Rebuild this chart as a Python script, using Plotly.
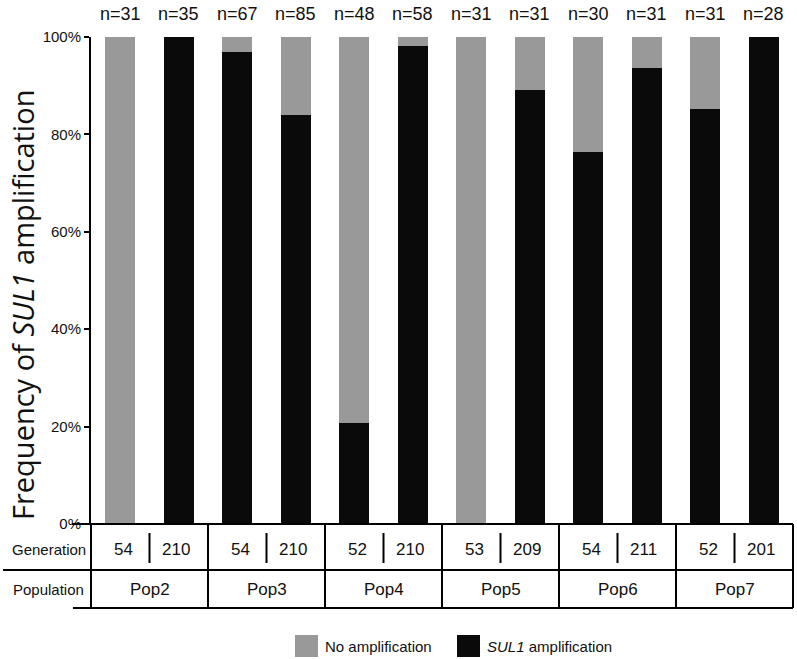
import plotly.graph_objects as go

populations = ["Pop2", "Pop3", "Pop4", "Pop5", "Pop6", "Pop7"]
generations = [54, 210, 54, 210, 52, 210, 53, 209, 54, 211, 52, 201]
sample_sizes = [31, 35, 67, 85, 48, 58, 31, 31, 30, 31, 31, 28]
amplified = [0.0, 1.0, 0.969, 0.840, 0.207, 0.982, 0.0, 0.891, 0.764, 0.936, 0.852, 1.0]
not_amplified = [round(1 - a, 3) for a in amplified]
y_ticks = [0, 0.2, 0.4, 0.6, 0.8, 1.0]
y_ticklabels = ["0%", "20%", "40%", "60%", "80%", "100%"]

# one category per sample (population + generation)
cats = [f"{populations[i // 2]}-{g}" for i, g in enumerate(generations)]

FONT = "Liberation Sans, Arial, sans-serif"
GRAY = "#999999"
BLACK = "#0a0a0a"
TXT = "#111111"

fig = go.Figure()
fig.add_trace(go.Bar(x=cats, y=amplified, name="SUL1 amplification",
                     marker=dict(color=BLACK, line=dict(width=0)), showlegend=False))
fig.add_trace(go.Bar(x=cats, y=not_amplified, name="No amplification",
                     marker=dict(color=GRAY, line=dict(width=0)), showlegend=False))

n = len(cats)
# paper helpers: plot area is 702 x 487 px
def py(pix):
    return (524 - pix) / 487

def px(pix):
    return (pix - 91) / 702

line = dict(color="black", width=2)
shapes = [
    # table horizontal lines
    dict(type="line", xref="paper", yref="paper", x0=px(72), x1=1, y0=0, y1=0, line=line),
    dict(type="line", xref="paper", yref="paper", x0=px(3), x1=1, y0=py(570), y1=py(570), line=line),
    dict(type="line", xref="paper", yref="paper", x0=px(73), x1=1, y0=py(608), y1=py(608), line=line),
]
# vertical borders between populations
for k in range(len(populations) + 1):
    x = k / len(populations)
    shapes.append(dict(type="line", xref="paper", yref="paper", x0=x, x1=x,
                       y0=0, y1=py(608), line=line))
    if k < len(populations):
        xm = (k + 0.5) / len(populations)
        shapes.append(dict(type="line", xref="paper", yref="paper", x0=xm, x1=xm,
                           y0=py(533), y1=py(563), line=line))


def note(x, y, text, size, xref="paper", xanchor="center", **kw):
    return dict(x=x, xref=xref, y=y, yref="paper", text=text, showarrow=False,
                xanchor=xanchor, yanchor="middle",
                font=dict(family=kw.pop("family", FONT), size=size, color=TXT), **kw)


annotations = []
for i, c in enumerate(cats):
    annotations.append(note(c, py(14), f"n={sample_sizes[i]}", 18, xref="x"))
    xc = (i + 0.5) / n + (0.004 if i % 2 == 0 else -0.004)
    annotations.append(note(xc, py(549), str(generations[i]), 17))
for k, p in enumerate(populations):
    annotations.append(note((k + 0.5) / len(populations), py(589), p, 17))
annotations += [
    note(px(88), py(549), "Generation", 15, xanchor="right"),
    note(px(86), py(589), "Population", 15, xanchor="right"),
    note(px(23), py(305), "Frequency of <i>SUL1</i> amplification", 29,
         textangle=-90, family="Open Sans, sans-serif"),
]

# legend drawn as swatches + labels
legend_items = [("No amplification", GRAY, 295), ("<i>SUL1</i> amplification", BLACK, 457)]
for label, color, x0 in legend_items:
    shapes.append(dict(type="rect", xref="paper", yref="paper", x0=px(x0), x1=px(x0 + 23),
                       y0=py(635), y1=py(657), fillcolor=color, line=dict(width=0)))
    annotations.append(note(px(x0 + 28), py(646), label, 15, xanchor="left"))

fig.update_layout(
    barmode="stack",
    bargap=0.487,
    width=797, height=659,
    margin=dict(l=91, r=4, t=37, b=135),
    plot_bgcolor="white", paper_bgcolor="white",
    shapes=shapes, annotations=annotations,
    xaxis=dict(showticklabels=False, ticks="", showgrid=False, zeroline=False,
               range=[-0.5, n - 0.5], showline=False),
    yaxis=dict(range=[0, 1], tickvals=y_ticks, ticktext=y_ticklabels, showgrid=False,
               zeroline=False, showline=True, linecolor="black", linewidth=2,
               ticks="outside", ticklen=5, tickwidth=2, tickcolor="black",
               tickfont=dict(family=FONT, size=15, color=TXT)),
)

fig.write_html("out.html", config={"displayModeBar": False},
               post_script="document.body.style.margin='0px';")
